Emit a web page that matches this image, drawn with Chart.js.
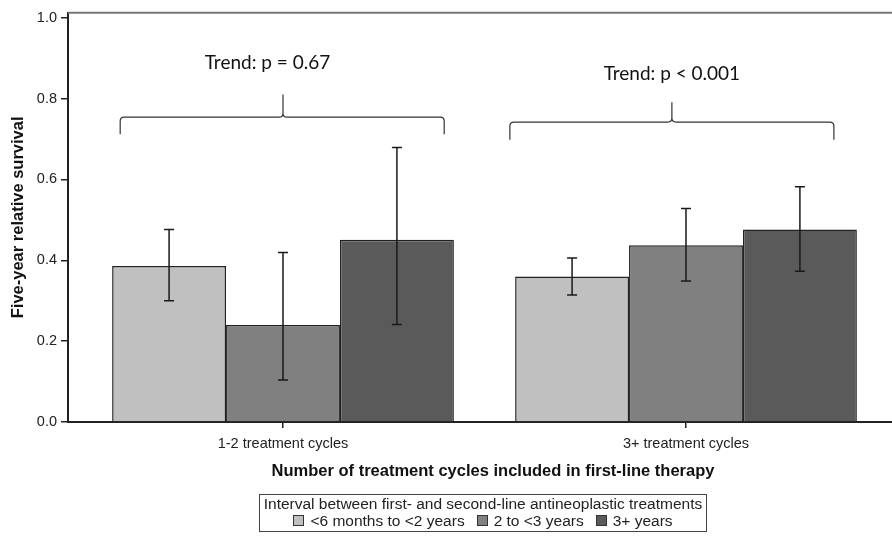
<!DOCTYPE html>
<html>
<head>
<meta charset="utf-8">
<script src="https://cdn.jsdelivr.net/npm/chart.js@4.4.0/dist/chart.umd.min.js"></script>
<style>
    html, body { margin: 0; padding: 0; background: #fff; overflow: hidden; }
    /* canvas is wider than the window: the plot frame runs past the right edge */
    #wrap { position: relative; width: 892px; height: 538px; overflow: hidden; }
    #legend {
        position: absolute; left: 259px; top: 494px; width: 446px; height: 36px;
        border: 1.5px solid #444; font-family: "Liberation Sans", Arial, sans-serif;
        font-size: 15.5px; color: #222; text-align: center; line-height: 17px;
    }
    #legend .item { display: inline-block; margin: 0 6px; }
    #legend .box { display: inline-block; width: 9px; height: 9px; border: 1px solid #333; margin-right: 6px; vertical-align: 0px; }
</style>
</head>
<body>
<div id="wrap">
    <canvas id="chart" width="918" height="538"></canvas>
    <div id="legend"></div>
</div>
<script>
const categories = ['1-2 treatment cycles', '3+ treatment cycles'];
const categoryPos = [1, 2];
const seriesNames = ['<6 months to <2 years', '2 to <3 years', '3+ years'];
const survival = [[0.386, 0.360], [0.240, 0.437], [0.451, 0.476]];
const ciLower = [[0.300, 0.314], [0.104, 0.349], [0.241, 0.373]];
const ciUpper = [[0.476, 0.406], [0.419, 0.528], [0.679, 0.582]];
const yTicks = [0, 0.2, 0.4, 0.6, 0.8, 1.0];
const trendLabels = ['Trend: p = 0.67', 'Trend: p < 0.001'];
const legendTitle = 'Interval between first- and second-line antineoplastic treatments';

const seriesColors = ['#c0c0c0', '#808080', '#5a5a5a'];
const axisFont = { family: '"Liberation Sans", Arial, sans-serif', size: 14.5 };
const titleFont = { family: '"Liberation Sans", Arial, sans-serif', size: 16.5, weight: 'bold' };

// braces over each group, in data units (x from/mid/to, y line/end/peak), text position
const braces = [
    { from: 0.596, mid: 1.0, to: 1.40, y: 0.754, end: 0.712, peak: 0.81, tx: 0.9615, ty: 0.889 },
    { from: 1.563, mid: 1.965, to: 2.367, y: 0.742, end: 0.698, peak: 0.791, tx: 1.965, ty: 0.862 }
];

// error bars + braces + frame top
const extrasPlugin = {
    id: 'extras',
    afterDatasetsDraw(chart) {
        const ctx = chart.ctx;
        const ys = chart.scales.y;
        const xs = chart.scales.x;
        ctx.save();
        ctx.strokeStyle = '#1a1a1a';
        ctx.lineWidth = 1.5;
        chart.data.datasets.forEach((ds, i) => {
            chart.getDatasetMeta(i).data.forEach((bar, j) => {
                const lo = ys.getPixelForValue(ciLower[i][j]);
                const hi = ys.getPixelForValue(ciUpper[i][j]);
                ctx.beginPath();
                ctx.moveTo(bar.x, lo); ctx.lineTo(bar.x, hi);
                ctx.moveTo(bar.x - 5, lo); ctx.lineTo(bar.x + 5, lo);
                ctx.moveTo(bar.x - 5, hi); ctx.lineTo(bar.x + 5, hi);
                ctx.stroke();
            });
        });

        // top frame line
        ctx.strokeStyle = '#777';
        ctx.lineWidth = 2;
        ctx.beginPath();
        ctx.moveTo(chart.chartArea.left, chart.chartArea.top);
        ctx.lineTo(chart.chartArea.right, chart.chartArea.top);
        ctx.stroke();

        // braces
        ctx.strokeStyle = '#333';
        ctx.lineWidth = 1.2;
        const r = 4;
        braces.forEach((b, k) => {
            const x0 = xs.getPixelForValue(b.from), xm = xs.getPixelForValue(b.mid), x1 = xs.getPixelForValue(b.to);
            const yH = ys.getPixelForValue(b.y), yE = ys.getPixelForValue(b.end), yP = ys.getPixelForValue(b.peak);
            ctx.beginPath();
            ctx.moveTo(x0, yE);
            ctx.lineTo(x0, yH + r);
            ctx.quadraticCurveTo(x0, yH, x0 + r, yH);
            ctx.lineTo(xm - r, yH);
            ctx.quadraticCurveTo(xm, yH, xm, yH - r);
            ctx.lineTo(xm, yP);
            ctx.moveTo(xm, yH - r);
            ctx.quadraticCurveTo(xm, yH, xm + r, yH);
            ctx.lineTo(x1 - r, yH);
            ctx.quadraticCurveTo(x1, yH, x1, yH + r);
            ctx.lineTo(x1, yE);
            ctx.stroke();

            ctx.fillStyle = '#111';
            ctx.font = '19px Lato, sans-serif';
            ctx.textAlign = 'center';
            ctx.textBaseline = 'middle';
            ctx.fillText(trendLabels[k], xs.getPixelForValue(b.tx), ys.getPixelForValue(b.ty));
        });
        ctx.restore();
    }
};

const chart = new Chart(document.getElementById('chart').getContext('2d'), {
    type: 'bar',
    data: {
        datasets: seriesNames.map((name, i) => ({
            label: name,
            data: categoryPos.map((x, j) => ({ x: x, y: survival[i][j] })),
            backgroundColor: seriesColors[i],
            borderColor: '#222',
            borderWidth: 1.5,
            categoryPercentage: 0.848,
            barPercentage: 1
        }))
    },
    options: {
        responsive: false,
        animation: false,
        layout: { padding: { left: 0, right: 0, top: 10, bottom: 57 } },
        plugins: { legend: { display: false }, tooltip: { enabled: false } },
        scales: {
            x: {
                type: 'linear',
                offset: false,
                min: 0.4665,
                max: 2.5757,
                afterBuildTicks: s => { s.ticks = categoryPos.map(v => ({ value: v })); },
                afterFit: s => { s.height = 59; },
                ticks: {
                    callback: v => categories[categoryPos.indexOf(v)],
                    font: axisFont, color: '#222', padding: 7, maxRotation: 0, autoSkip: false
                },
                grid: { display: true, offset: false, drawOnChartArea: false, tickLength: 6, color: '#222', lineWidth: 1.5 },
                border: { color: '#222', width: 2 },
                title: {
                    display: true, text: 'Number of treatment cycles included in first-line therapy',
                    font: titleFont, color: '#111', padding: 0
                }
            },
            y: {
                min: 0,
                max: 1.0125,
                afterBuildTicks: s => { s.ticks = yTicks.map(v => ({ value: v })); },
                afterFit: s => { s.width = 68; },
                ticks: { callback: v => v.toFixed(1), font: axisFont, color: '#222', padding: 4 },
                grid: { display: true, drawOnChartArea: false, tickLength: 7, color: '#222', lineWidth: 1.5 },
                border: { color: '#222', width: 2 },
                title: {
                    display: true, text: 'Five-year relative survival',
                    font: titleFont, color: '#111',
                    padding: { top: 9, bottom: 0 }
                }
            }
        }
    },
    plugins: [extrasPlugin]
});

// legend as html below the chart
const legend = document.getElementById('legend');
legend.innerHTML = '<div>' + legendTitle + '</div><div>' +
    seriesNames.map((n, i) => '<span class="item"><span class="box" style="background:' + seriesColors[i] + '"></span>' +
        n.replace(/</g, '&lt;') + '</span>').join('') + '</div>';
</script>
</body>
</html>
